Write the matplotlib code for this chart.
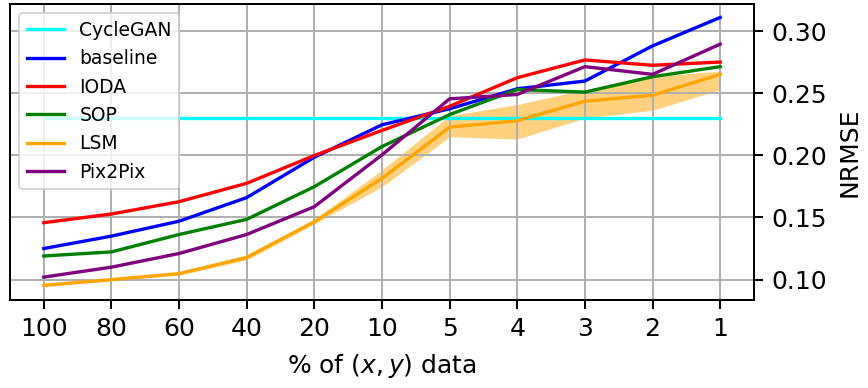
import matplotlib
matplotlib.use("Agg")
import matplotlib.pyplot as plt
import numpy as np

x_labels = ["100", "80", "60", "40", "20", "10", "5", "4", "3", "2", "1"]

cyclegan = [0.230] * 11
baseline = [0.125, 0.135, 0.147, 0.166, 0.1985, 0.2246, 0.2375, 0.2536, 0.2598, 0.2881, 0.311]
ioda = [0.1458, 0.1528, 0.1627, 0.1775, 0.1999, 0.2201, 0.2395, 0.2625, 0.2768, 0.2725, 0.2751]
sop = [0.119, 0.1223, 0.1363, 0.1485, 0.1748, 0.2071, 0.2328, 0.253, 0.2509, 0.2633, 0.2714]
lsm = [0.0954, 0.100, 0.1048, 0.1178, 0.1466, 0.1815, 0.2227, 0.2279, 0.2436, 0.2484, 0.2652]
lsm_lo = [0.0944, 0.0990, 0.1036, 0.1158, 0.1448, 0.1747, 0.2150, 0.2131, 0.2300, 0.2363, 0.2530]
lsm_hi = [0.0964, 0.1010, 0.1060, 0.1198, 0.1484, 0.1883, 0.2320, 0.2409, 0.2530, 0.2633, 0.2679]
pix2pix = [0.102, 0.110, 0.121, 0.1363, 0.1587, 0.2004, 0.2455, 0.249, 0.2714, 0.2652, 0.2895]

xs = np.arange(len(x_labels))

# reference looks like a small figure saved at high dpi -> scale defaults by ~1.8
k = 1.8

fig = plt.figure(figsize=(8.68, 3.88), dpi=100)
ax = fig.add_axes([10 / 868, 88 / 388, 744 / 868, 296 / 388])

lw = 2.4
ax.plot(xs, cyclegan, color="cyan", lw=lw, label="CycleGAN")
ax.plot(xs, baseline, color="blue", lw=lw, label="baseline")
ax.plot(xs, ioda, color="red", lw=lw, label="IODA")
ax.plot(xs, sop, color="green", lw=lw, label="SOP")
ax.plot(xs, lsm, color="orange", lw=lw, label="LSM")
ax.fill_between(xs, lsm_lo, lsm_hi, color="orange", alpha=0.5, lw=0)
ax.plot(xs, pix2pix, color="purple", lw=lw, label="Pix2Pix")

ax.set_xticks(xs)
ax.set_xticklabels(x_labels)
ax.yaxis.tick_right()
ax.yaxis.set_label_position("right")
ax.set_yticks([0.10, 0.15, 0.20, 0.25, 0.30])
ax.tick_params(labelsize=18, length=3.5 * k, width=0.8 * k, pad=3.5 * k)
ax.set_ylabel("NRMSE", fontsize=18, labelpad=4 * k)
ax.set_xlabel(r"% of $(x, y)$ data", fontsize=18, labelpad=4 * k)
ax.grid(True, color="#b0b0b0", lw=0.8 * k)
for s in ax.spines.values():
    s.set_linewidth(0.8 * k)

leg = ax.legend(loc="upper left", fontsize=13.5)
leg.get_frame().set_linewidth(0.8 * k)

fig.savefig("out.png", dpi=100)
